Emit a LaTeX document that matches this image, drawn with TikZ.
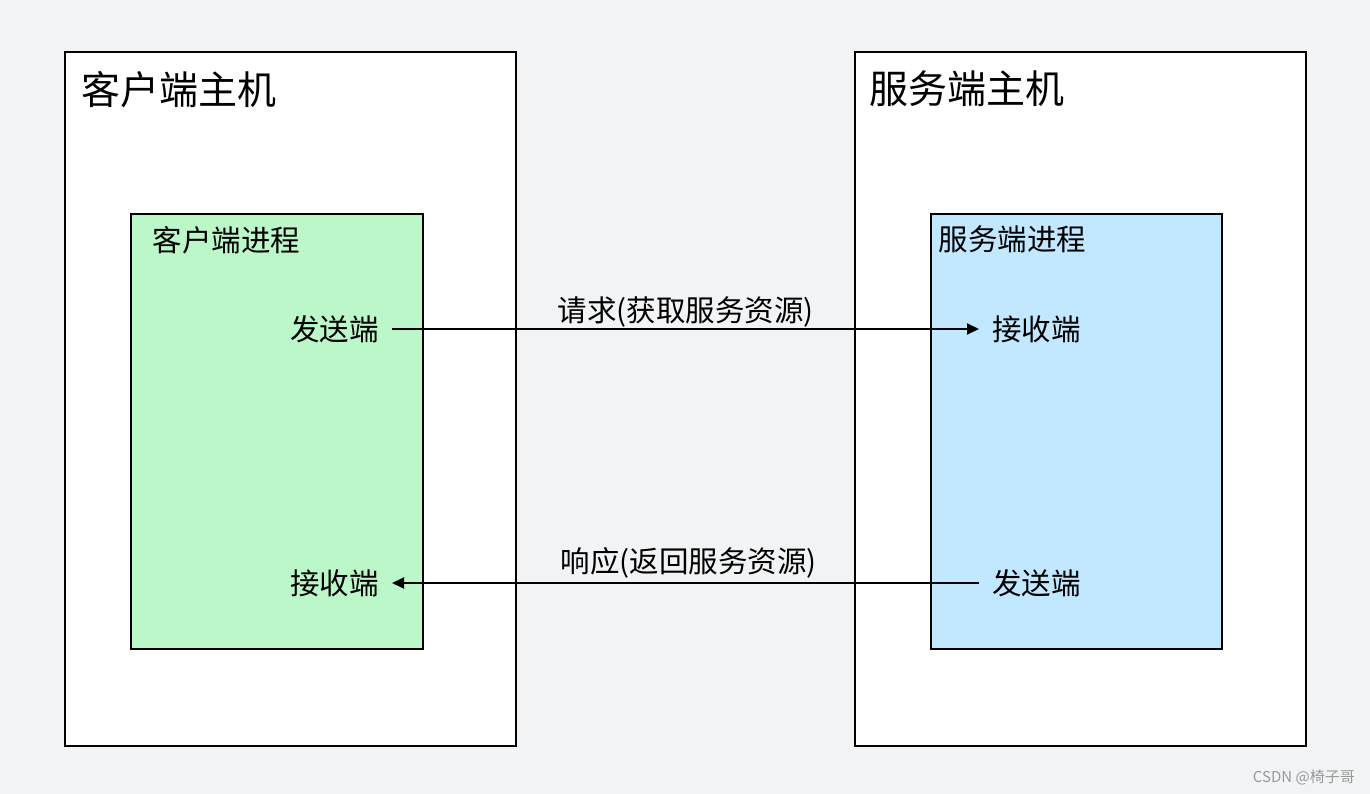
\documentclass[tikz,border=0pt]{standalone}
\usepackage{fontspec}
\setmainfont{Noto Sans CJK SC}
\usetikzlibrary{positioning,arrows.meta}
\definecolor{bggray}{RGB}{242,243,245}
\definecolor{procgreen}{RGB}{187,247,200}
\definecolor{procblue}{RGB}{194,232,255}
\begin{document}
\begin{tikzpicture}[x=1pt,y=-1pt,
    host/.style={draw,line width=2.5pt,fill=white,minimum width=451pt,minimum height=694pt,inner sep=0pt},
    proc/.style={draw,line width=2.5pt,minimum width=292pt,minimum height=435pt,inner sep=0pt},
    big/.style={font=\fontsize{39}{46}\selectfont,inner sep=0pt},
    txt/.style={font=\fontsize{29.5}{35}\selectfont,inner sep=0pt},
    port/.style={txt,inner xsep=13pt},
    msg/.style={-{Triangle[length=12pt,width=11pt]},line width=1.9pt}]
\fill[bggray] (0,0) rectangle (1370,794);
\useasboundingbox (0,0) rectangle (1370,794);
% hosts
\node[host] (ch) at (290.5,399) {};
\node[host] (sh) at (1080.5,399) {};
\node[big,below right=20pt and 18pt of ch.north west] (cht) {客户端主机};
\node[big,below right=20pt and 16pt of sh.north west] (sht) {服务端主机};
% processes
\node[proc,fill=procgreen] (cp) at (277,431.5) {};
\node[proc,fill=procblue,minimum width=291pt] (sp) at (1076.5,431.5) {};
\node[txt,below right=14pt and 23pt of cp.north west] (cpt) {客户端进程};
\node[txt,below right=13pt and 9pt of sp.north west] (spt) {服务端进程};
% ends
\node[port,anchor=east] (csend) at (392,329) {发送端};
\node[port,anchor=west] (srecv) at (979,329) {接收端};
\node[port,anchor=east] (crecv) at (392,583) {接收端};
\node[port,anchor=west] (ssend) at (979,583) {发送端};
\path[msg] (csend) edge node[txt,above=1pt] {请求(获取服务资源)} (srecv)
           (ssend) edge node[txt,above=4pt,xshift=3pt] {响应(返回服务资源)} (crecv);
\node[font=\fontsize{15}{18}\selectfont,text=black!40,anchor=east,inner sep=0pt] (mark) at (1355,777) {CSDN @椅子哥};
\end{tikzpicture}
\end{document}
